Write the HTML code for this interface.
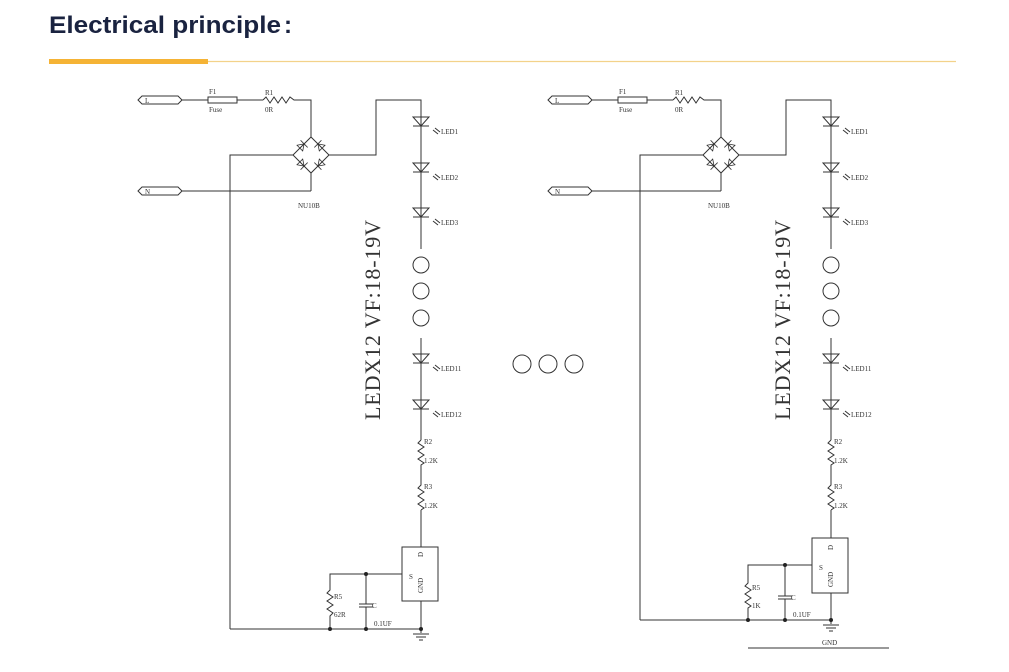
<!DOCTYPE html>
<html><head><meta charset="utf-8"><style>
html,body{margin:0;padding:0;background:#fff;width:1009px;height:672px;overflow:hidden}
svg{display:block}
.t{font-family:"Liberation Serif",serif;fill:#333}
</style></head><body>
<svg width="1009" height="672" viewBox="0 0 1009 672" xmlns="http://www.w3.org/2000/svg">
<defs>
<g id="led">
  <polygon points="-8,-5 8,-5 0,4" fill="none" stroke="#333" stroke-width="1"/>
  <line x1="-8" y1="4" x2="8" y2="4" stroke="#333"/>
  <line x1="12" y1="8" x2="17" y2="12" stroke="#333"/>
  <line x1="14" y1="6" x2="19" y2="10" stroke="#333"/>
</g>
<g id="bd">
  <polygon points="-4,-3 4,-3 0,3" fill="none" stroke="#333" stroke-width="0.8"/>
  <line x1="-5" y1="3" x2="5" y2="3" stroke="#333" stroke-width="0.8"/>
</g>
<g id="top" fill="none" stroke="#333" stroke-width="1">
  <polygon points="138,100 142,96 178,96 182,100 178,104 142,104"/>
  <polygon points="138,191 142,187 178,187 182,191 178,195 142,195"/>
  <line x1="182" y1="100" x2="208" y2="100"/>
  <rect x="208" y="97" width="29" height="6"/>
  <line x1="237" y1="100" x2="263" y2="100"/>
  <polyline points="263,100 266,97 270,103 274,97 278,103 282,97 286,103 290,97 294,100 311,100 311,137"/>
  <polygon points="311,137 329,155 311,173 293,155"/>
  <line x1="182" y1="191" x2="311" y2="191"/>
  <line x1="311" y1="191" x2="311" y2="173"/>
  <polyline points="293,155 230,155 230,600"/>
  <polyline points="329,155 376,155 376,100 421,100 421,249"/>
  <circle cx="421" cy="265" r="8"/>
  <circle cx="421" cy="291" r="8"/>
  <circle cx="421" cy="318" r="8"/>
  <line x1="421" y1="338" x2="421" y2="440"/>
  <polyline points="421,440 418,443 424,447 418,451 424,455 418,459 424,463 421,465 421,485 418,488 424,492 418,496 424,500 418,504 424,508 421,510"/>
  <use href="#led" x="421" y="122"/>
  <use href="#led" x="421" y="168"/>
  <use href="#led" x="421" y="213"/>
  <use href="#led" x="421" y="359"/>
  <use href="#led" x="421" y="405"/>
  <use href="#bd" transform="translate(302,146) rotate(-135)"/>
  <use href="#bd" transform="translate(320,146) rotate(135)"/>
  <use href="#bd" transform="translate(302,164) rotate(-45)"/>
  <use href="#bd" transform="translate(320,164) rotate(45)"/>
</g>
<g id="toptext" class="t" font-size="7">
  <text x="145" y="103">L</text>
  <text x="145" y="194">N</text>
  <text x="209" y="94">F1</text>
  <text x="209" y="112">Fuse</text>
  <text x="265" y="95">R1</text>
  <text x="265" y="112">0R</text>
  <text x="298" y="208">NU10B</text>
  <text x="441" y="134">LED1</text>
  <text x="441" y="180">LED2</text>
  <text x="441" y="225">LED3</text>
  <text x="441" y="371">LED11</text>
  <text x="441" y="417">LED12</text>
  <text x="424" y="444">R2</text>
  <text x="424" y="463">1.2K</text>
  <text x="424" y="489">R3</text>
  <text x="424" y="508">1.2K</text>
  <text class="t" font-size="22" transform="translate(380,420) rotate(-90)" textLength="200">LEDX12 VF:18-19V</text>
</g>
</defs>

<text x="49" y="33" font-family="Liberation Sans,sans-serif" font-weight="bold" font-size="24" fill="#1a2340" textLength="232" lengthAdjust="spacingAndGlyphs">Electrical principle</text>
<text x="284" y="33" font-family="Liberation Sans,sans-serif" font-weight="bold" font-size="24" fill="#1a2340">:</text>
<rect x="49" y="59" width="159" height="5" fill="#f5b335"/>
<line x1="208" y1="61.5" x2="956" y2="61.5" stroke="#f3d28a" stroke-width="1.2"/>

<use href="#top"/>
<use href="#toptext"/>
<g transform="translate(410,0)">
<use href="#top"/>
<use href="#toptext"/>
</g>

<g fill="none" stroke="#333">
<circle cx="522" cy="364" r="9"/>
<circle cx="548" cy="364" r="9"/>
<circle cx="574" cy="364" r="9"/>
</g>

<!-- left bottom -->
<g fill="none" stroke="#333" stroke-width="1">
  <line x1="230" y1="600" x2="230" y2="629"/>
  <line x1="421" y1="510" x2="421" y2="547"/>
  <rect x="402" y="547" width="36" height="54"/>
  <line x1="421" y1="601" x2="421" y2="633"/>
  <line x1="230" y1="629" x2="421" y2="629"/>
  <polyline points="402,574 330,574 330,590 327,593 333,597 327,601 333,605 327,609 333,613 330,616 330,629"/>
  <line x1="366" y1="574" x2="366" y2="604"/>
  <line x1="359" y1="604" x2="373" y2="604"/>
  <line x1="359" y1="607" x2="373" y2="607"/>
  <line x1="366" y1="607" x2="366" y2="629"/>
  <line x1="413" y1="634" x2="429" y2="634"/>
  <line x1="416" y1="637" x2="426" y2="637"/>
  <line x1="419" y1="640" x2="423" y2="640"/>
</g>
<g fill="#222">
  <circle cx="366" cy="574" r="2"/><circle cx="330" cy="629" r="2"/><circle cx="366" cy="629" r="2"/><circle cx="421" cy="629" r="2"/>
</g>
<g class="t" font-size="7">
  <text x="409" y="579">S</text>
  <text transform="translate(423,557) rotate(-90)">D</text>
  <text transform="translate(423,593) rotate(-90)">GND</text>
  <text x="334" y="599">R5</text>
  <text x="334" y="617">62R</text>
  <text x="372" y="608">C</text>
  <text x="374" y="626">0.1UF</text>
</g>

<!-- right bottom -->
<g fill="none" stroke="#333" stroke-width="1">
  <line x1="640" y1="600" x2="640" y2="620"/>
  <line x1="831" y1="510" x2="831" y2="538"/>
  <rect x="812" y="538" width="36" height="55"/>
  <line x1="831" y1="593" x2="831" y2="624"/>
  <line x1="640" y1="620" x2="831" y2="620"/>
  <polyline points="812,565 748,565 748,583 745,586 751,590 745,594 751,598 745,602 751,606 748,608 748,620"/>
  <line x1="785" y1="565" x2="785" y2="596"/>
  <line x1="778" y1="596" x2="792" y2="596"/>
  <line x1="778" y1="599" x2="792" y2="599"/>
  <line x1="785" y1="599" x2="785" y2="620"/>
  <line x1="823" y1="625" x2="839" y2="625"/>
  <line x1="826" y1="628" x2="836" y2="628"/>
  <line x1="829" y1="631" x2="833" y2="631"/>
  <line x1="748" y1="648" x2="889" y2="648"/>
</g>
<g fill="#222">
  <circle cx="785" cy="565" r="2"/><circle cx="748" cy="620" r="2"/><circle cx="785" cy="620" r="2"/><circle cx="831" cy="620" r="2"/>
</g>
<g class="t" font-size="7">
  <text x="819" y="570">S</text>
  <text transform="translate(833,550) rotate(-90)">D</text>
  <text transform="translate(833,587) rotate(-90)">GND</text>
  <text x="752" y="590">R5</text>
  <text x="752" y="608">1K</text>
  <text x="791" y="600">C</text>
  <text x="793" y="617">0.1UF</text>
  <text x="822" y="645">GND</text>
</g>
</svg>
</body></html>
